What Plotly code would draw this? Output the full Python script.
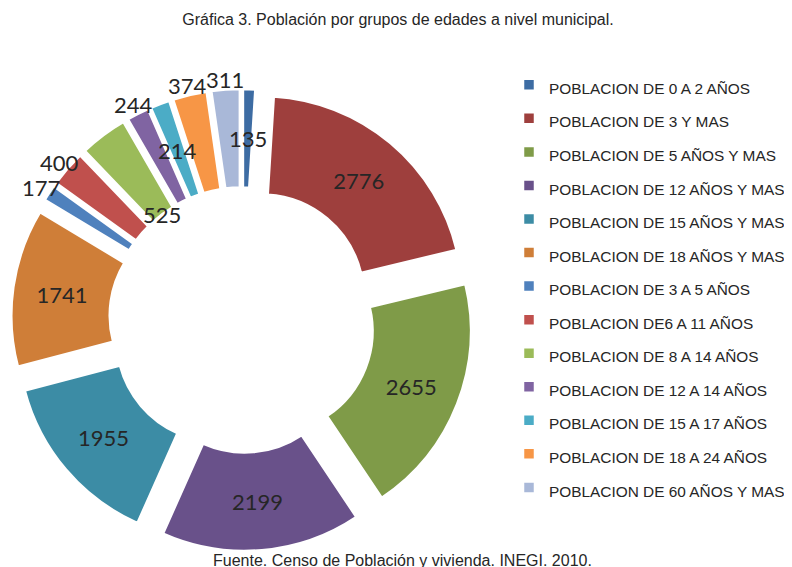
import math
import plotly.graph_objects as go

categories = [
    "POBLACION DE 0 A 2 AÑOS",
    "POBLACION DE 3 Y MAS",
    "POBLACION DE 5 AÑOS Y MAS",
    "POBLACION DE 12 AÑOS Y MAS",
    "POBLACION DE 15 AÑOS Y MAS",
    "POBLACION DE 18 AÑOS Y MAS",
    "POBLACION DE 3 A 5 AÑOS",
    "POBLACION DE6 A 11 AÑOS",
    "POBLACION DE 8 A 14 AÑOS",
    "POBLACION DE 12 A 14 AÑOS",
    "POBLACION DE 15 A 17 AÑOS",
    "POBLACION DE 18 A 24 AÑOS",
    "POBLACION DE 60 AÑOS Y MAS",
]
values = [135, 2776, 2655, 2199, 1955, 1741, 177, 400, 525, 244, 214, 374, 311]
colors = ["#3D6CA3", "#9E3F3D", "#7F9B48", "#69518A", "#3C8CA5", "#CF7E38",
          "#4F81BD", "#C0504D", "#9BBB59", "#8064A2", "#4BACC6", "#F79646", "#A9B8D8"]
# label placement for each slice: drawn by the pie itself, or next to it
label_place = ["ring", "pie", "pie", "pie", "pie", "pie",
               "outer", "outer", "hole", "outer", "ring", "outer", "outer"]

W, H = 792, 567
CX, CY, SIZE = 234, 312, 462      # pie domain centre / size in pixels
PULL, HOLE = 0.15, 0.51
num_font = dict(family="Lato, Carlito, Calibri, sans-serif", size=22, color="#262626")
txt_font = dict(family="Liberation Sans, Arial, sans-serif", size=16, color="#262626")

dom_x = [(CX - SIZE / 2) / W, (CX + SIZE / 2) / W]
dom_y = [1 - (CY + SIZE / 2) / H, 1 - (CY - SIZE / 2) / H]

fig = go.Figure(go.Pie(
    labels=['<span style="font-size:15.4px">%s</span>' % c for c in categories],
    values=values,
    sort=False,
    direction="clockwise",
    rotation=0,
    hole=HOLE,
    pull=PULL,
    marker=dict(colors=colors, line=dict(width=2.5, color="white")),
    texttemplate=["%{value}" if p == "pie" else "" for p in label_place],
    textposition=["inside" if p == "pie" else "none" for p in label_place],
    insidetextorientation="horizontal",
    textfont=num_font,
    domain=dict(x=dom_x, y=dom_y),
    hoverinfo="value",
))

# labels of the thin slices, placed from the slice angles (same geometry as plotly's pie)
r = (SIZE / 2) / (1 + PULL)
total = sum(values)
annotations = []
cum = 0
for v, place in zip(values, label_place):
    mid = (cum + v / 2) / total * 2 * math.pi
    cum += v
    if place == "pie":
        continue
    rho = {"outer": r + 10, "ring": r * (1 + HOLE) / 2, "hole": r * HOLE}[place]
    px = CX + (PULL * r + rho) * math.sin(mid)
    py = CY - (PULL * r + rho) * math.cos(mid)
    annotations.append(dict(text=str(v), x=px / W, y=1 - py / H, xref="paper", yref="paper",
                            xanchor="center", yanchor="middle", showarrow=False, font=num_font))

annotations.append(dict(text="Fuente. Censo de Población y vivienda. INEGI. 2010.",
                        xref="paper", yref="paper", x=394 / W, y=1 - 552 / H,
                        xanchor="center", yanchor="middle", showarrow=False, font=txt_font))

fig.update_layout(
    width=W, height=H,
    margin=dict(l=0, r=0, t=0, b=0, autoexpand=False),
    paper_bgcolor="white",
    plot_bgcolor="white",
    title=dict(text="Gráfica 3. Población por grupos de edades a nivel municipal.",
               x=390 / W, xanchor="center", y=1 - 11 / H, yanchor="middle", font=txt_font),
    # legend rows are spaced by the legend font size; the visible text size is set in the labels
    legend=dict(x=501 / W, xanchor="left", y=1 - 55 / H, yanchor="top",
                font=dict(family="Liberation Sans, Arial, sans-serif", size=23.5, color="#262626"),
                bgcolor="rgba(0,0,0,0)"),
    annotations=annotations,
)

fig.write_html("out.html")
